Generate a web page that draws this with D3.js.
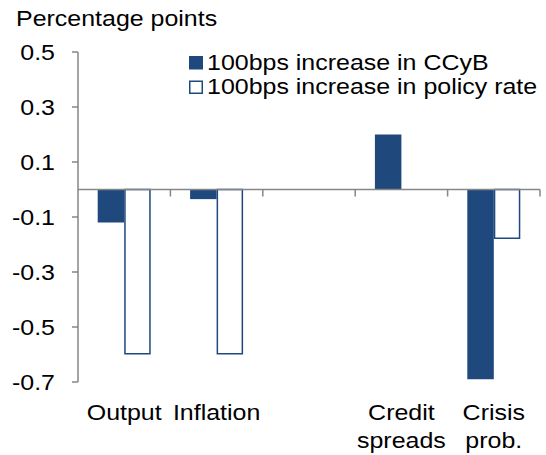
<!DOCTYPE html>
<html>
<head>
<meta charset="utf-8">
<script src="https://cdn.jsdelivr.net/npm/d3@7"></script>
<style>
  body { margin: 0; background: #fff; }
  text { font-family: "Liberation Sans", Arial, sans-serif; fill: #000; font-size: 22.5px; }
</style>
</head>
<body>
<div id="chart"></div>
<script>
var categories = ["Output", "Inflation", "", "Credit\nspreads", "Crisis\nprob."];
var ccyb = [-0.12, -0.035, null, 0.2, -0.69];
var policy = [-0.6, -0.6, null, null, -0.18];
var seriesNames = ["100bps increase in CCyB", "100bps increase in policy rate"];
var yTicks = [0.5, 0.3, 0.1, -0.1, -0.3, -0.5, -0.7];

var width = 546, height = 455;
var blue = "#1f497d";
var axisGrey = "#868686";
var sx = 1.11; // the source text is a bit wider than Liberation Sans

var svg = d3.select("#chart").append("svg").attr("width", width).attr("height", height);

function place(sel, px, py) {
  return sel.attr("transform", function(d, i) {
    var a = typeof px == "function" ? px(d, i) : px;
    var b = typeof py == "function" ? py(d, i) : py;
    return "translate(" + a + "," + b + ") scale(" + sx + ",1)";
  });
}

var x = d3.scaleBand().domain(d3.range(categories.length)).range([78, 540]);
var y = d3.scaleLinear().domain([-0.7, 0.5]).range([382, 52]);
var barW = 26.5;

// y axis
svg.append("line").attr("x1", 78).attr("x2", 78).attr("y1", y(0.5)).attr("y2", y(-0.7))
  .attr("stroke", axisGrey).attr("stroke-width", 1.5);
svg.selectAll(".ytick").data(yTicks).enter().append("line")
  .attr("x1", 72).attr("x2", 78).attr("y1", d => y(d)).attr("y2", d => y(d))
  .attr("stroke", axisGrey).attr("stroke-width", 1.5);
place(svg.selectAll(".ylab").data(yTicks).enter().append("text")
  .attr("text-anchor", "end").text(d => d.toFixed(1)), 55, d => y(d) + 8);

place(svg.append("text").text("Percentage points"), 16, 26);

// bars
var groups = svg.selectAll(".grp").data(categories).enter().append("g")
  .attr("transform", (d, i) => "translate(" + (x(i) + x.bandwidth() / 2) + ",0)");

groups.each(function(d, i) {
  var g = d3.select(this);
  if (ccyb[i] != null) {
    g.append("rect").attr("x", -barW).attr("width", barW)
      .attr("y", y(Math.max(0, ccyb[i]))).attr("height", Math.abs(y(ccyb[i]) - y(0)))
      .attr("fill", blue);
  }
  if (policy[i] != null) {
    g.append("rect").attr("x", 0.75).attr("width", barW - 1.5)
      .attr("y", y(Math.max(0, policy[i]))).attr("height", Math.abs(y(policy[i]) - y(0)) - 0.75)
      .attr("fill", "#fff").attr("stroke", blue).attr("stroke-width", 1.5);
  }
});

// x axis at zero
svg.append("line").attr("x1", 78).attr("x2", 540).attr("y1", y(0)).attr("y2", y(0))
  .attr("stroke", axisGrey).attr("stroke-width", 1.5);
svg.selectAll(".xtick").data(d3.range(1, categories.length + 1)).enter().append("line")
  .attr("x1", d => x(0) + d * x.bandwidth()).attr("x2", d => x(0) + d * x.bandwidth())
  .attr("y1", y(0)).attr("y2", y(0) + 7)
  .attr("stroke", axisGrey).attr("stroke-width", 1.5);

// category labels
groups.each(function(d) {
  var lines = d.split("\n");
  lines.forEach((l, k) => {
    place(d3.select(this).append("text").attr("text-anchor", "middle").text(l), 0, 420 + k * 28);
  });
});

// legend
var leg = svg.selectAll(".leg").data(seriesNames).enter().append("g")
  .attr("transform", (d, i) => "translate(189," + (56 + i * 24.5) + ")");
leg.append("rect").attr("x", (d, i) => i ? 0.75 : 0).attr("y", (d, i) => i ? 0.75 : 0)
  .attr("width", (d, i) => i ? 12.5 : 14).attr("height", (d, i) => i ? 12 : 13.5)
  .attr("fill", (d, i) => i ? "#fff" : blue)
  .attr("stroke", (d, i) => i ? blue : "none").attr("stroke-width", 1.5);
place(leg.append("text").text(d => d), 18, 13.5);
</script>
</body>
</html>
